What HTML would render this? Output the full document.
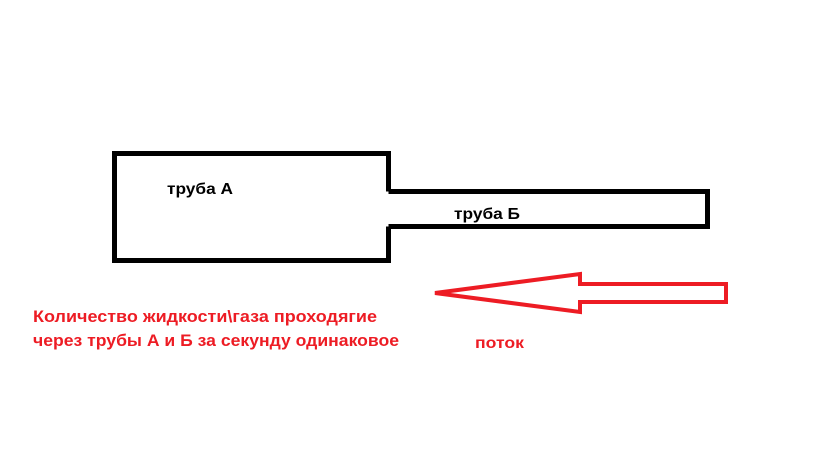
<!DOCTYPE html>
<html><head><meta charset="utf-8"><style>
html,body{margin:0;padding:0;background:#fff;width:816px;height:460px;overflow:hidden}
</style></head><body>
<svg width="816" height="460" viewBox="0 0 816 460" xmlns="http://www.w3.org/2000/svg">
<rect width="816" height="460" fill="#fff"/>
<path d="M388.5 191.5 V153.5 H114.5 V260.5 H388.5 V226.5" fill="none" stroke="#000" stroke-width="5"/>
<path d="M388.5 191.5 H707.5 V226.5 H388.5" fill="none" stroke="#000" stroke-width="5"/>
<path d="M435 293 L580 274 V284 H726 V302 H580 V312 Z" fill="none" stroke="#ed1c24" stroke-width="4" stroke-linejoin="miter"/>
<g font-family="Liberation Sans, DejaVu Sans, sans-serif" font-weight="bold">
<text x="167" y="194" font-size="16" fill="#000" textLength="66" lengthAdjust="spacingAndGlyphs">труба А</text>
<text x="454" y="219" font-size="16" fill="#000" textLength="66" lengthAdjust="spacingAndGlyphs">труба Б</text>
<text x="33" y="322" font-size="17" fill="#ed1c24" textLength="344" lengthAdjust="spacingAndGlyphs">Количество жидкости\газа проходягие</text>
<text x="33" y="346" font-size="17" fill="#ed1c24" textLength="366" lengthAdjust="spacingAndGlyphs">через трубы А и Б за секунду одинаковое</text>
<text x="475" y="348" font-size="16" fill="#ed1c24" textLength="49" lengthAdjust="spacingAndGlyphs">поток</text>
</g>
</svg>
</body></html>
